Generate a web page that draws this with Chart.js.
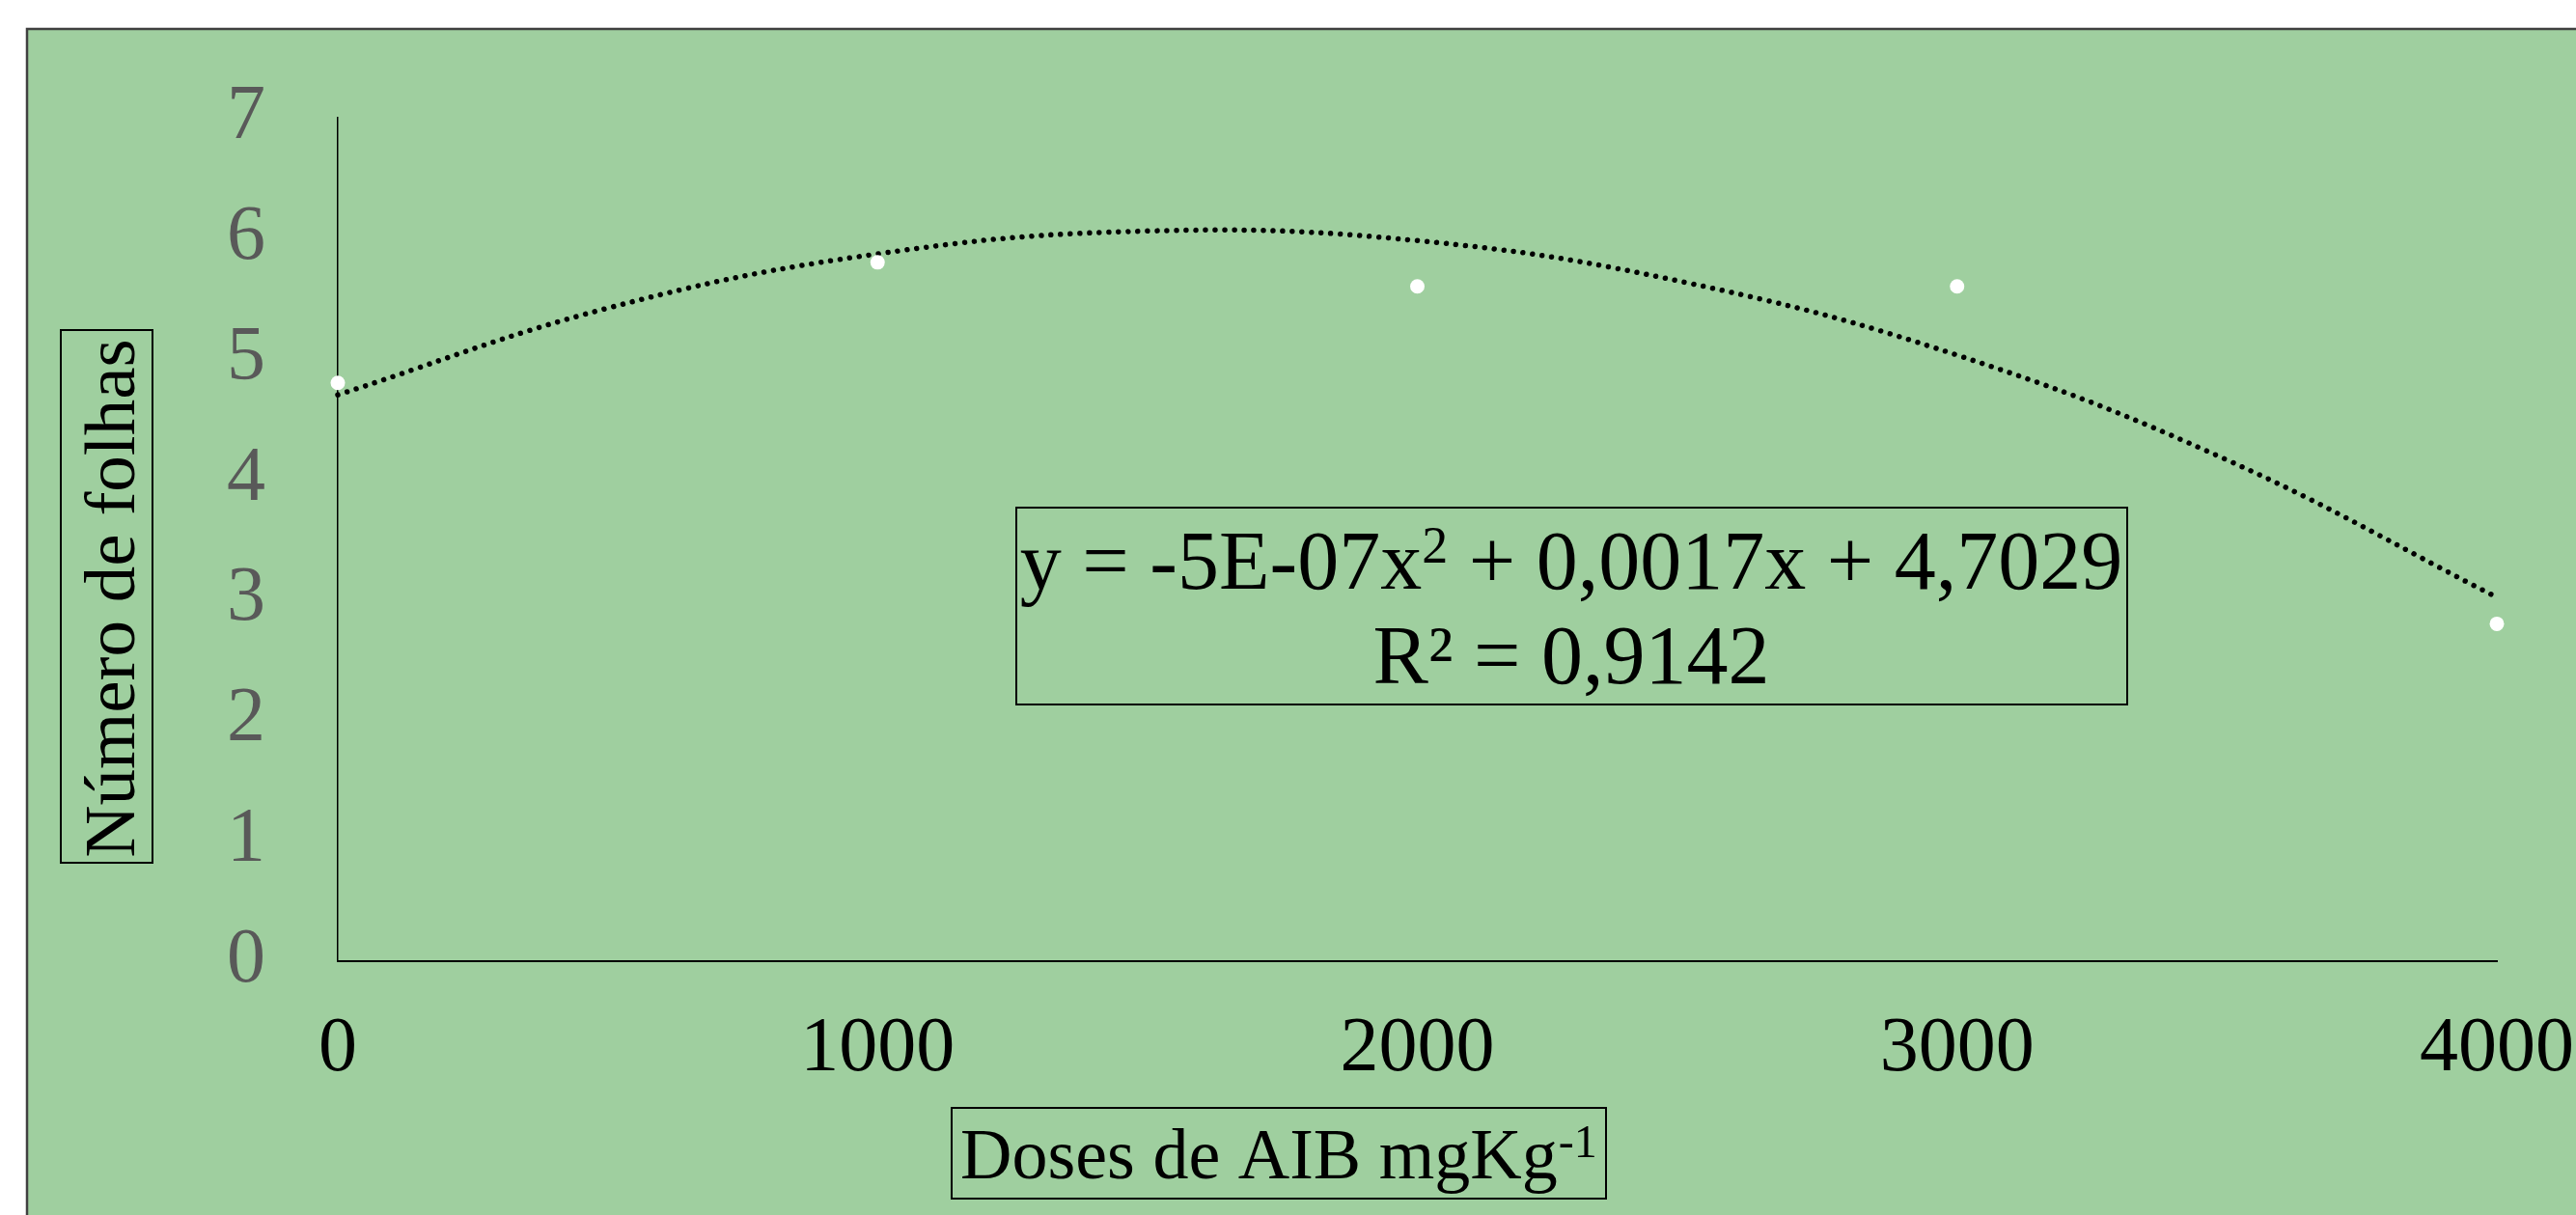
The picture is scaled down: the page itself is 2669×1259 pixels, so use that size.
<!DOCTYPE html>
<html>
<head>
<meta charset="utf-8">
<style>
html,body{margin:0;padding:0;background:#fff;overflow:hidden}
#wrap{position:relative;width:2669px;height:1259px}
canvas{display:block}
</style>
<script src="https://cdn.jsdelivr.net/npm/chart.js@4.4.0/dist/chart.umd.min.js"></script>
</head>
<body>
<div id="wrap"><canvas id="c" width="2669" height="1259"></canvas></div>
<script>
// ---- data ----
const doses = [0, 1000, 2000, 3000, 4000];
const leaves = [4.8, 5.8, 5.6, 5.6, 2.8];
const trendDoses = [0, 500, 1000, 1500, 2000, 2500, 3000, 3500, 4000];
const trendLeaves = [4.70, 5.42, 5.87, 6.06, 5.98, 5.63, 5.03, 4.16, 3.02];
const xTickValues = [0, 1000, 2000, 3000, 4000];
const yTickValues = [0, 1, 2, 3, 4, 5, 6, 7];
const xTitleText = 'Doses de AIB mgKg';
const xTitleSup = '-1';
const yTitleText = 'Número de folhas';
const eqLine1 = 'y = -5E-07x² + 0,0017x + 4,7029';
const eqLine2 = 'R² = 0,9142';

const FONT = '"Liberation Serif", "Times New Roman", serif';
const GREEN = '#9fcf9f';

const framePlugin = {
  id: 'frame',
  beforeDraw(chart) {
    const ctx = chart.ctx;
    ctx.save();
    ctx.fillStyle = '#ffffff';
    ctx.fillRect(0, 0, chart.width, chart.height);
    ctx.fillStyle = GREEN;
    ctx.fillRect(28, 30, chart.width, chart.height);
    ctx.strokeStyle = '#404040';
    ctx.lineWidth = 2.5;
    ctx.beginPath();
    ctx.moveTo(28, chart.height + 5);
    ctx.lineTo(28, 30);
    ctx.lineTo(chart.width + 5, 30);
    ctx.stroke();
    ctx.restore();
  }
};

function drawWithSup(ctx, parts, x, y, size, supSize, supRise) {
  let total = 0;
  parts.forEach(p => {
    ctx.font = (p[1] ? supSize : size) + 'px ' + FONT;
    total += ctx.measureText(p[0]).width;
  });
  let cx = x - total / 2;
  ctx.textAlign = 'left';
  parts.forEach(p => {
    ctx.font = (p[1] ? supSize : size) + 'px ' + FONT;
    ctx.fillText(p[0], cx, p[1] ? y - supRise : y);
    cx += ctx.measureText(p[0]).width;
  });
}

const labelsPlugin = {
  id: 'labelsBoxes',
  afterDraw(chart) {
    const ctx = chart.ctx;
    ctx.save();
    ctx.fillStyle = '#000';
    ctx.strokeStyle = '#000';
    ctx.lineWidth = 2;
    ctx.textBaseline = 'alphabetic';

    // Y axis title
    ctx.save();
    ctx.translate(139, 620);
    ctx.rotate(-Math.PI / 2);
    ctx.font = '75px ' + FONT;
    ctx.textAlign = 'center';
    ctx.fillText(yTitleText, 0, 0);
    ctx.restore();
    ctx.strokeRect(63, 342, 95, 552);

    // X axis title
    ctx.font = '74px ' + FONT;
    ctx.textAlign = 'left';
    ctx.fillText(xTitleText, 995, 1221);
    const w = ctx.measureText(xTitleText).width;
    ctx.font = '48px ' + FONT;
    ctx.fillText(xTitleSup, 995 + w + 1, 1199);
    ctx.strokeRect(986, 1148, 678, 94);

    // Equation box
    const idx = eqLine1.indexOf('²');
    drawWithSup(ctx, [[eqLine1.slice(0, idx), false], ['2', true], [eqLine1.slice(idx + 1), false]],
      1628, 610, 86, 54, 27);
    ctx.font = '86px ' + FONT;
    ctx.textAlign = 'center';
    ctx.fillText(eqLine2, 1628, 708);
    ctx.strokeRect(1053, 526, 1151, 204);
    ctx.restore();
  }
};

new Chart(document.getElementById('c'), {
  type: 'scatter',
  data: {
    datasets: [
      {
        label: 'Número de folhas',
        data: doses.map((d, i) => ({x: d, y: leaves[i]})),
        pointRadius: 7.5,
        pointHoverRadius: 7.5,
        pointBackgroundColor: '#ffffff',
        pointBorderWidth: 0,
        borderColor: '#ffffff',
        showLine: false,
        clip: false,
        order: 0
      },
      {
        label: 'Polinomial',
        data: trendDoses.map((d, i) => ({x: d, y: trendLeaves[i]})),
        showLine: true,
        pointRadius: 0,
        borderColor: '#000000',
        borderWidth: 5.5,
        borderDash: [0.001, 10],
        borderCapStyle: 'round',
        tension: 0.4,
        fill: false,
        clip: false,
        order: 1
      }
    ]
  },
  options: {
    responsive: false,
    animation: false,
    events: [],
    layout: { padding: { left: 0, right: 82, top: 122, bottom: 0 } },
    plugins: {
      legend: { display: false },
      tooltip: { enabled: false },
      title: { display: false }
    },
    scales: {
      x: {
        type: 'linear',
        min: 0, max: 4000,
        afterBuildTicks: s => { s.ticks = xTickValues.map(v => ({value: v})); },
        ticks: {
          color: '#000000',
          font: { family: FONT, size: 80 },
          padding: 44,
          maxRotation: 0,
          autoSkip: false,
          callback: v => String(v)
        },
        grid: { display: false, drawTicks: false },
        border: { display: true, color: '#000000', width: 2 },
        afterFit: s => { s.height = 263; s.paddingLeft = 0; s.paddingRight = 0; }
      },
      y: {
        type: 'linear',
        min: 0, max: 7,
        afterBuildTicks: s => { s.ticks = yTickValues.map(v => ({value: v})); },
        ticks: {
          color: '#595959',
          font: { family: FONT, size: 80 },
          padding: 75,
          autoSkip: false,
          callback: v => String(v)
        },
        grid: { display: false, drawTicks: false },
        border: { display: true, color: '#000000', width: 1.5 },
        afterFit: s => { s.width = 350; s.paddingTop = 0; s.paddingBottom = 0; }
      }
    }
  },
  plugins: [framePlugin, labelsPlugin]
});
</script>
</body>
</html>
